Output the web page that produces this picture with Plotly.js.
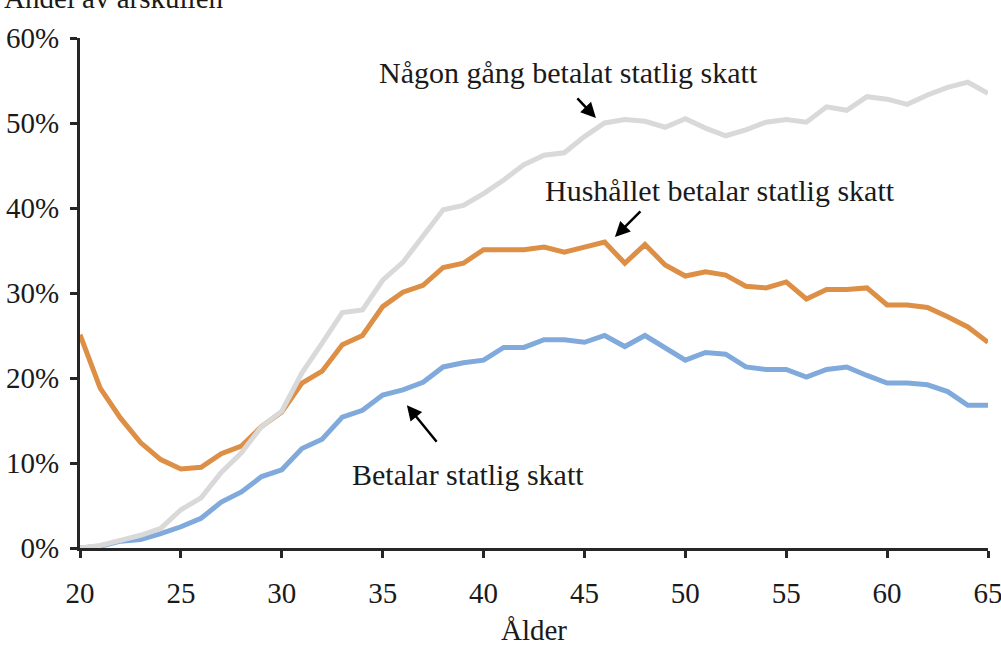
<!DOCTYPE html>
<html>
<head>
<meta charset="utf-8">
<script src="https://cdn.plot.ly/plotly-3.0.1.min.js"></script>
<style>
  html, body { margin: 0; padding: 0; background: #fff; }
  #chart { width: 1001px; height: 646px; }
</style>
</head>
<body>
<div id="chart"></div>
<script>
const ages = [20, 21, 22, 23, 24, 25, 26, 27, 28, 29, 30, 31, 32, 33, 34, 35, 36, 37, 38, 39,
  40, 41, 42, 43, 44, 45, 46, 47, 48, 49, 50, 51, 52, 53, 54, 55, 56, 57, 58, 59,
  60, 61, 62, 63, 64, 65];

// Andel (%) av årskullen
const nagonGang = [0.0, 0.3, 0.9, 1.5, 2.3, 4.5, 5.9, 8.9, 11.2, 14.3, 16.1, 20.6, 24.1, 27.7, 28.0,
  31.5, 33.6, 36.6, 39.8, 40.3, 41.7, 43.3, 45.1, 46.2, 46.5, 48.4, 50.0, 50.4, 50.2, 49.5,
  50.5, 49.4, 48.5, 49.2, 50.1, 50.4, 50.1, 51.9, 51.5, 53.1, 52.8, 52.2, 53.3, 54.2, 54.8, 53.5];

const hushallet = [25.1, 18.8, 15.3, 12.4, 10.4, 9.3, 9.5, 11.1, 12.0, 14.3, 16.0, 19.4, 20.8, 23.9, 25.0,
  28.4, 30.1, 30.9, 33.0, 33.5, 35.1, 35.1, 35.1, 35.4, 34.8, 35.4, 36.0, 33.5, 35.7, 33.3,
  32.0, 32.5, 32.1, 30.8, 30.6, 31.3, 29.3, 30.4, 30.4, 30.6, 28.6, 28.6, 28.3, 27.2, 26.0, 24.2];

const betalar = [0.0, 0.2, 0.8, 1.0, 1.7, 2.5, 3.5, 5.4, 6.6, 8.4, 9.2, 11.7, 12.8, 15.4, 16.2,
  18.0, 18.6, 19.5, 21.3, 21.8, 22.1, 23.6, 23.6, 24.5, 24.5, 24.2, 25.0, 23.7, 25.0, 23.6,
  22.1, 23.0, 22.8, 21.3, 21.0, 21.0, 20.1, 21.0, 21.3, 20.3, 19.4, 19.4, 19.2, 18.4, 16.8, 16.8];

const xTicks = [20, 25, 30, 35, 40, 45, 50, 55, 60, 65];
const yTicks = [0, 10, 20, 30, 40, 50, 60];
const yTickText = ['0%', '10%', '20%', '30%', '40%', '50%', '60%'];

const FONT = '"Liberation Serif", "Times New Roman", serif';
const INK = '#1a1a1a';
const AXIS = '#262626';

function line(y, name, color) {
  return {
    x: ages, y, name,
    type: 'scatter',
    mode: 'lines',
    line: { color, width: 5 },
    hoverinfo: 'skip',
  };
}

const traces = [
  line(betalar, 'Betalar statlig skatt', '#80aadb'),
  line(hushallet, 'Hushållet betalar statlig skatt', '#dc8f45'),
  line(nagonGang, 'Någon gång betalat statlig skatt', '#d9d9d9'),
];

// label text centred at a data point, arrow from tail offset to head
function label(text, x, y) {
  return { text, x, y, xref: 'x', yref: 'y', showarrow: false,
    font: { family: FONT, size: 30, color: INK } };
}
function arrow(x, y, ax, ay) {
  return { text: '', x, y, xref: 'x', yref: 'y', ax, ay,
    showarrow: true, arrowhead: 2, arrowsize: 1.2, arrowwidth: 2.5,
    arrowcolor: '#000', standoff: 0, startstandoff: 0 };
}

const layout = {
  width: 1001,
  height: 646,
  margin: { l: 80, r: 13, t: 38, b: 98 },
  paper_bgcolor: '#fff',
  plot_bgcolor: '#fff',
  showlegend: false,
  font: { family: FONT, size: 29, color: INK },
  xaxis: {
    range: [20, 65],
    tickvals: xTicks,
    ticks: 'outside', ticklen: 7, tickwidth: 3, tickcolor: AXIS,
    showline: true, linecolor: AXIS, linewidth: 3,
    showgrid: false, zeroline: false,
    ticklabelstandoff: 10,
    ticklabeloverflow: 'allow',
    tickfont: { family: FONT, size: 29, color: INK },
    title: { text: 'Ålder', standoff: 13, font: { family: FONT, size: 29, color: INK } },
  },
  yaxis: {
    range: [0, 60],
    tickvals: yTicks,
    ticktext: yTickText,
    ticks: 'outside', ticklen: 7, tickwidth: 3, tickcolor: AXIS,
    showline: true, linecolor: AXIS, linewidth: 3,
    showgrid: false, zeroline: false,
    ticklabelstandoff: 5,
    ticklabeloverflow: 'allow',
    tickfont: { family: FONT, size: 29, color: INK },
  },
  annotations: [
    { text: 'Andel av årskullen', xref: 'paper', yref: 'paper', x: -0.086, y: 1.078,
      xanchor: 'left', yanchor: 'middle', showarrow: false,
      font: { family: FONT, size: 29, color: INK } },
    label('Någon gång betalat statlig skatt', 44.23, 56.0),
    label('Hushållet betalar statlig skatt', 51.71, 42.1),
    label('Betalar statlig skatt', 39.23, 8.7),
    arrow(45.57, 50.6, -20, -21),
    arrow(46.51, 36.6, 27, -27),
    arrow(36.2, 16.8, 31, 38),
  ],
};

Plotly.newPlot('chart', traces, layout, { displayModeBar: false, staticPlot: true });
</script>
</body>
</html>
